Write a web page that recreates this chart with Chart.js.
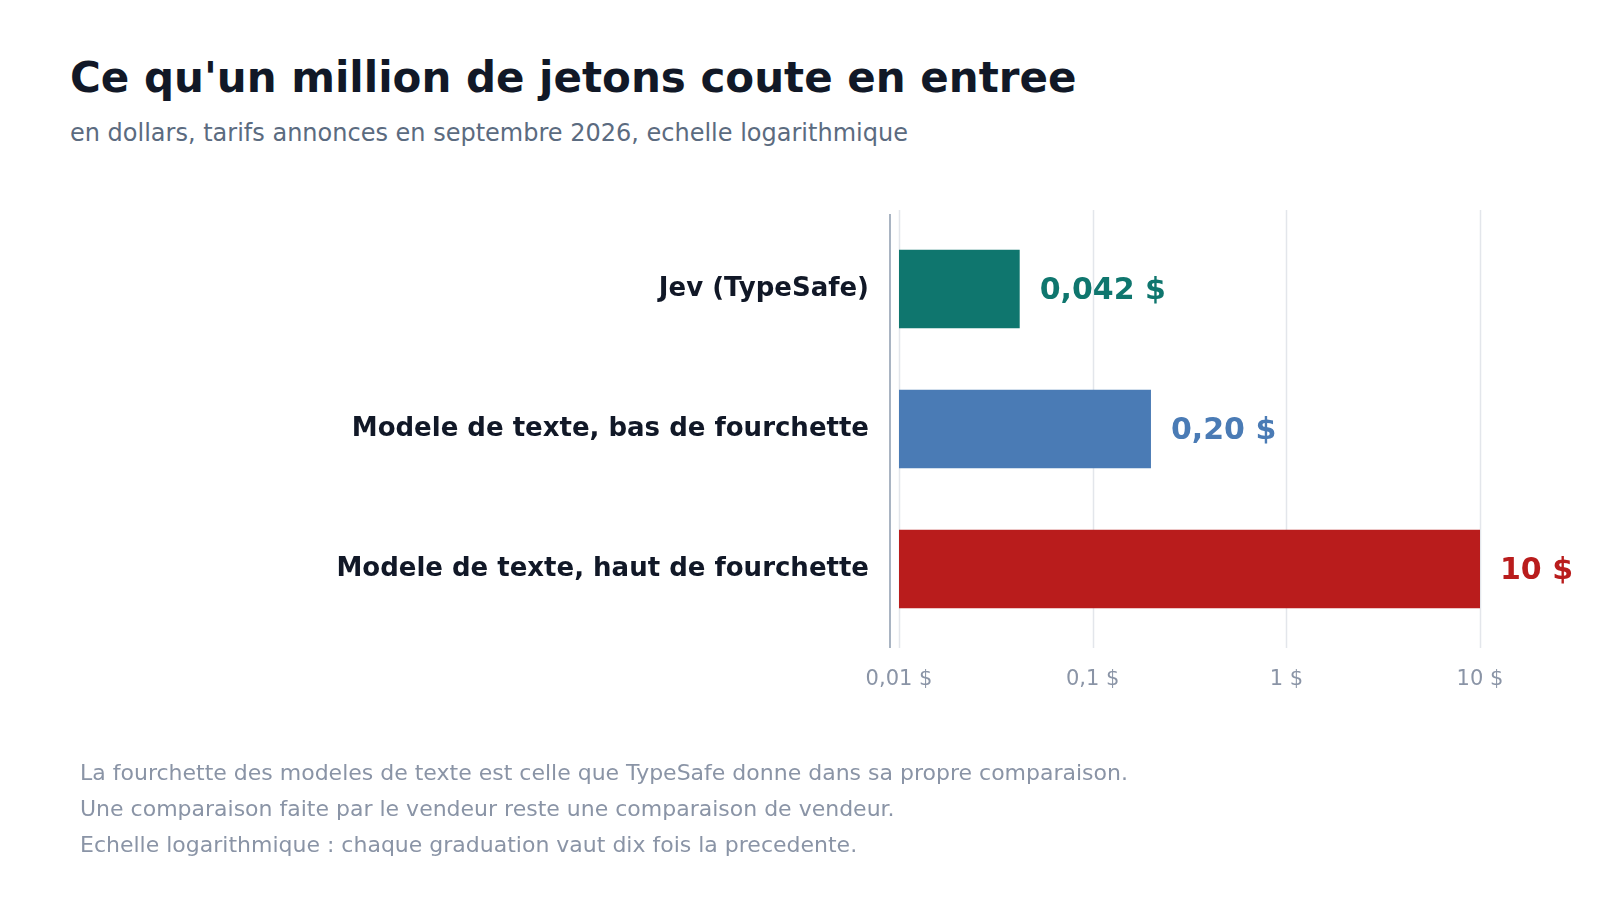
<!DOCTYPE html>
<html>
<head>
<meta charset="utf-8">
<script src="https://cdn.jsdelivr.net/npm/chart.js@4"></script>
<style>
  body { margin: 0; background: #fff; font-family: "DejaVu Sans", sans-serif; }
  #wrap { position: relative; width: 1600px; height: 900px; overflow: hidden; }
  #title { position: absolute; left: 70px; top: 53px; font-size: 42px; font-weight: bold; color: #111827; white-space: nowrap; }
  #subtitle { position: absolute; left: 70px; top: 119px; font-size: 24px; color: #5b6b80; white-space: nowrap; }
  #notes { position: absolute; left: 80px; top: 755px; font-size: 22px; line-height: 36px; color: #8a94a6; white-space: nowrap; }
  canvas { position: absolute; left: 0; top: 0; }
</style>
</head>
<body>
<div id="wrap">
  <div id="title">Ce qu'un million de jetons coute en entree</div>
  <div id="subtitle">en dollars, tarifs annonces en septembre 2026, echelle logarithmique</div>
  <canvas id="chart" width="1600" height="900"></canvas>
  <div id="notes">
    La fourchette des modeles de texte est celle que TypeSafe donne dans sa propre comparaison.<br>
    Une comparaison faite par le vendeur reste une comparaison de vendeur.<br>
    Echelle logarithmique : chaque graduation vaut dix fois la precedente.
  </div>
</div>
<script>
const categories = [
    'Jev (TypeSafe)',
    'Modele de texte, bas de fourchette',
    'Modele de texte, haut de fourchette',
];
const prices = [0.042, 0.20, 10];
const priceLabels = ['0,042 $', '0,20 $', '10 $'];
const barColors = ['#0f766e', '#4a7bb5', '#b91c1c'];
const tickValues = [0.01, 0.1, 1, 10];
const tickLabels = ['0,01 $', '0,1 $', '1 $', '10 $'];

// grid lines a bit taller than the plot, plus the left axis rule
const gridPlugin = {
    id: 'grid',
    beforeDatasetsDraw(chart) {
        const ctx = chart.ctx, area = chart.chartArea, x = chart.scales.x;
        ctx.save();
        ctx.lineWidth = 1.5;
        ctx.strokeStyle = '#e3e6eb';
        tickValues.forEach(v => {
            const px = Math.round(x.getPixelForValue(v)) + 0.5;
            ctx.beginPath();
            ctx.moveTo(px, area.top - 9);
            ctx.lineTo(px, area.bottom + 9);
            ctx.stroke();
        });
        ctx.strokeStyle = '#a9b4c2';
        ctx.lineWidth = 2;
        ctx.beginPath();
        ctx.moveTo(area.left - 9, area.top - 5);
        ctx.lineTo(area.left - 9, area.bottom + 9);
        ctx.stroke();
        ctx.restore();
    }
};

const valuePlugin = {
    id: 'values',
    afterDatasetsDraw(chart) {
        const ctx = chart.ctx;
        ctx.save();
        ctx.font = 'bold 30px "DejaVu Sans"';
        ctx.textBaseline = 'middle';
        ctx.textAlign = 'left';
        chart.getDatasetMeta(0).data.forEach((bar, i) => {
            ctx.fillStyle = barColors[i];
            ctx.fillText(priceLabels[i], bar.x + 20, bar.y + 2);
        });
        ctx.restore();
    }
};

const config = {
    type: 'bar',
    data: {
        labels: categories,
        datasets: [{
            data: prices,
            backgroundColor: barColors,
            borderWidth: 0,
            barPercentage: 0.562,
            categoryPercentage: 1,
            base: 0.01,
        }]
    },
    options: {
        indexAxis: 'y',
        responsive: false,
        animation: false,
        layout: { padding: { top: 219, right: 120, left: 0, bottom: 0 } },
        plugins: {
            legend: { display: false },
            title: { display: false },
            tooltip: { enabled: false }
        },
        scales: {
            x: {
                type: 'logarithmic',
                min: 0.01,
                max: 10,
                grid: { display: false, drawTicks: false },
                border: { display: false },
                afterBuildTicks: (scale) => {
                    scale.ticks = tickValues.map(v => ({ value: v }));
                },
                afterFit: (scale) => { scale.height = 261; },
                ticks: {
                    padding: 28,
                    color: '#8a94a6',
                    font: { family: 'DejaVu Sans', size: 21 },
                    callback: (v) => tickLabels[tickValues.indexOf(v)],
                }
            },
            y: {
                grid: { display: false, drawTicks: false },
                border: { display: false },
                afterFit: (scale) => { scale.width = 899; },
                ticks: {
                    padding: 30,
                    color: '#111827',
                    font: { family: 'DejaVu Sans', size: 26, weight: 'bold', lineHeight: 1.1 },
                }
            }
        }
    },
    plugins: [gridPlugin, valuePlugin]
};

window.addEventListener('load', function () {
    new Chart(document.getElementById('chart'), config);
});
</script>
</body>
</html>
